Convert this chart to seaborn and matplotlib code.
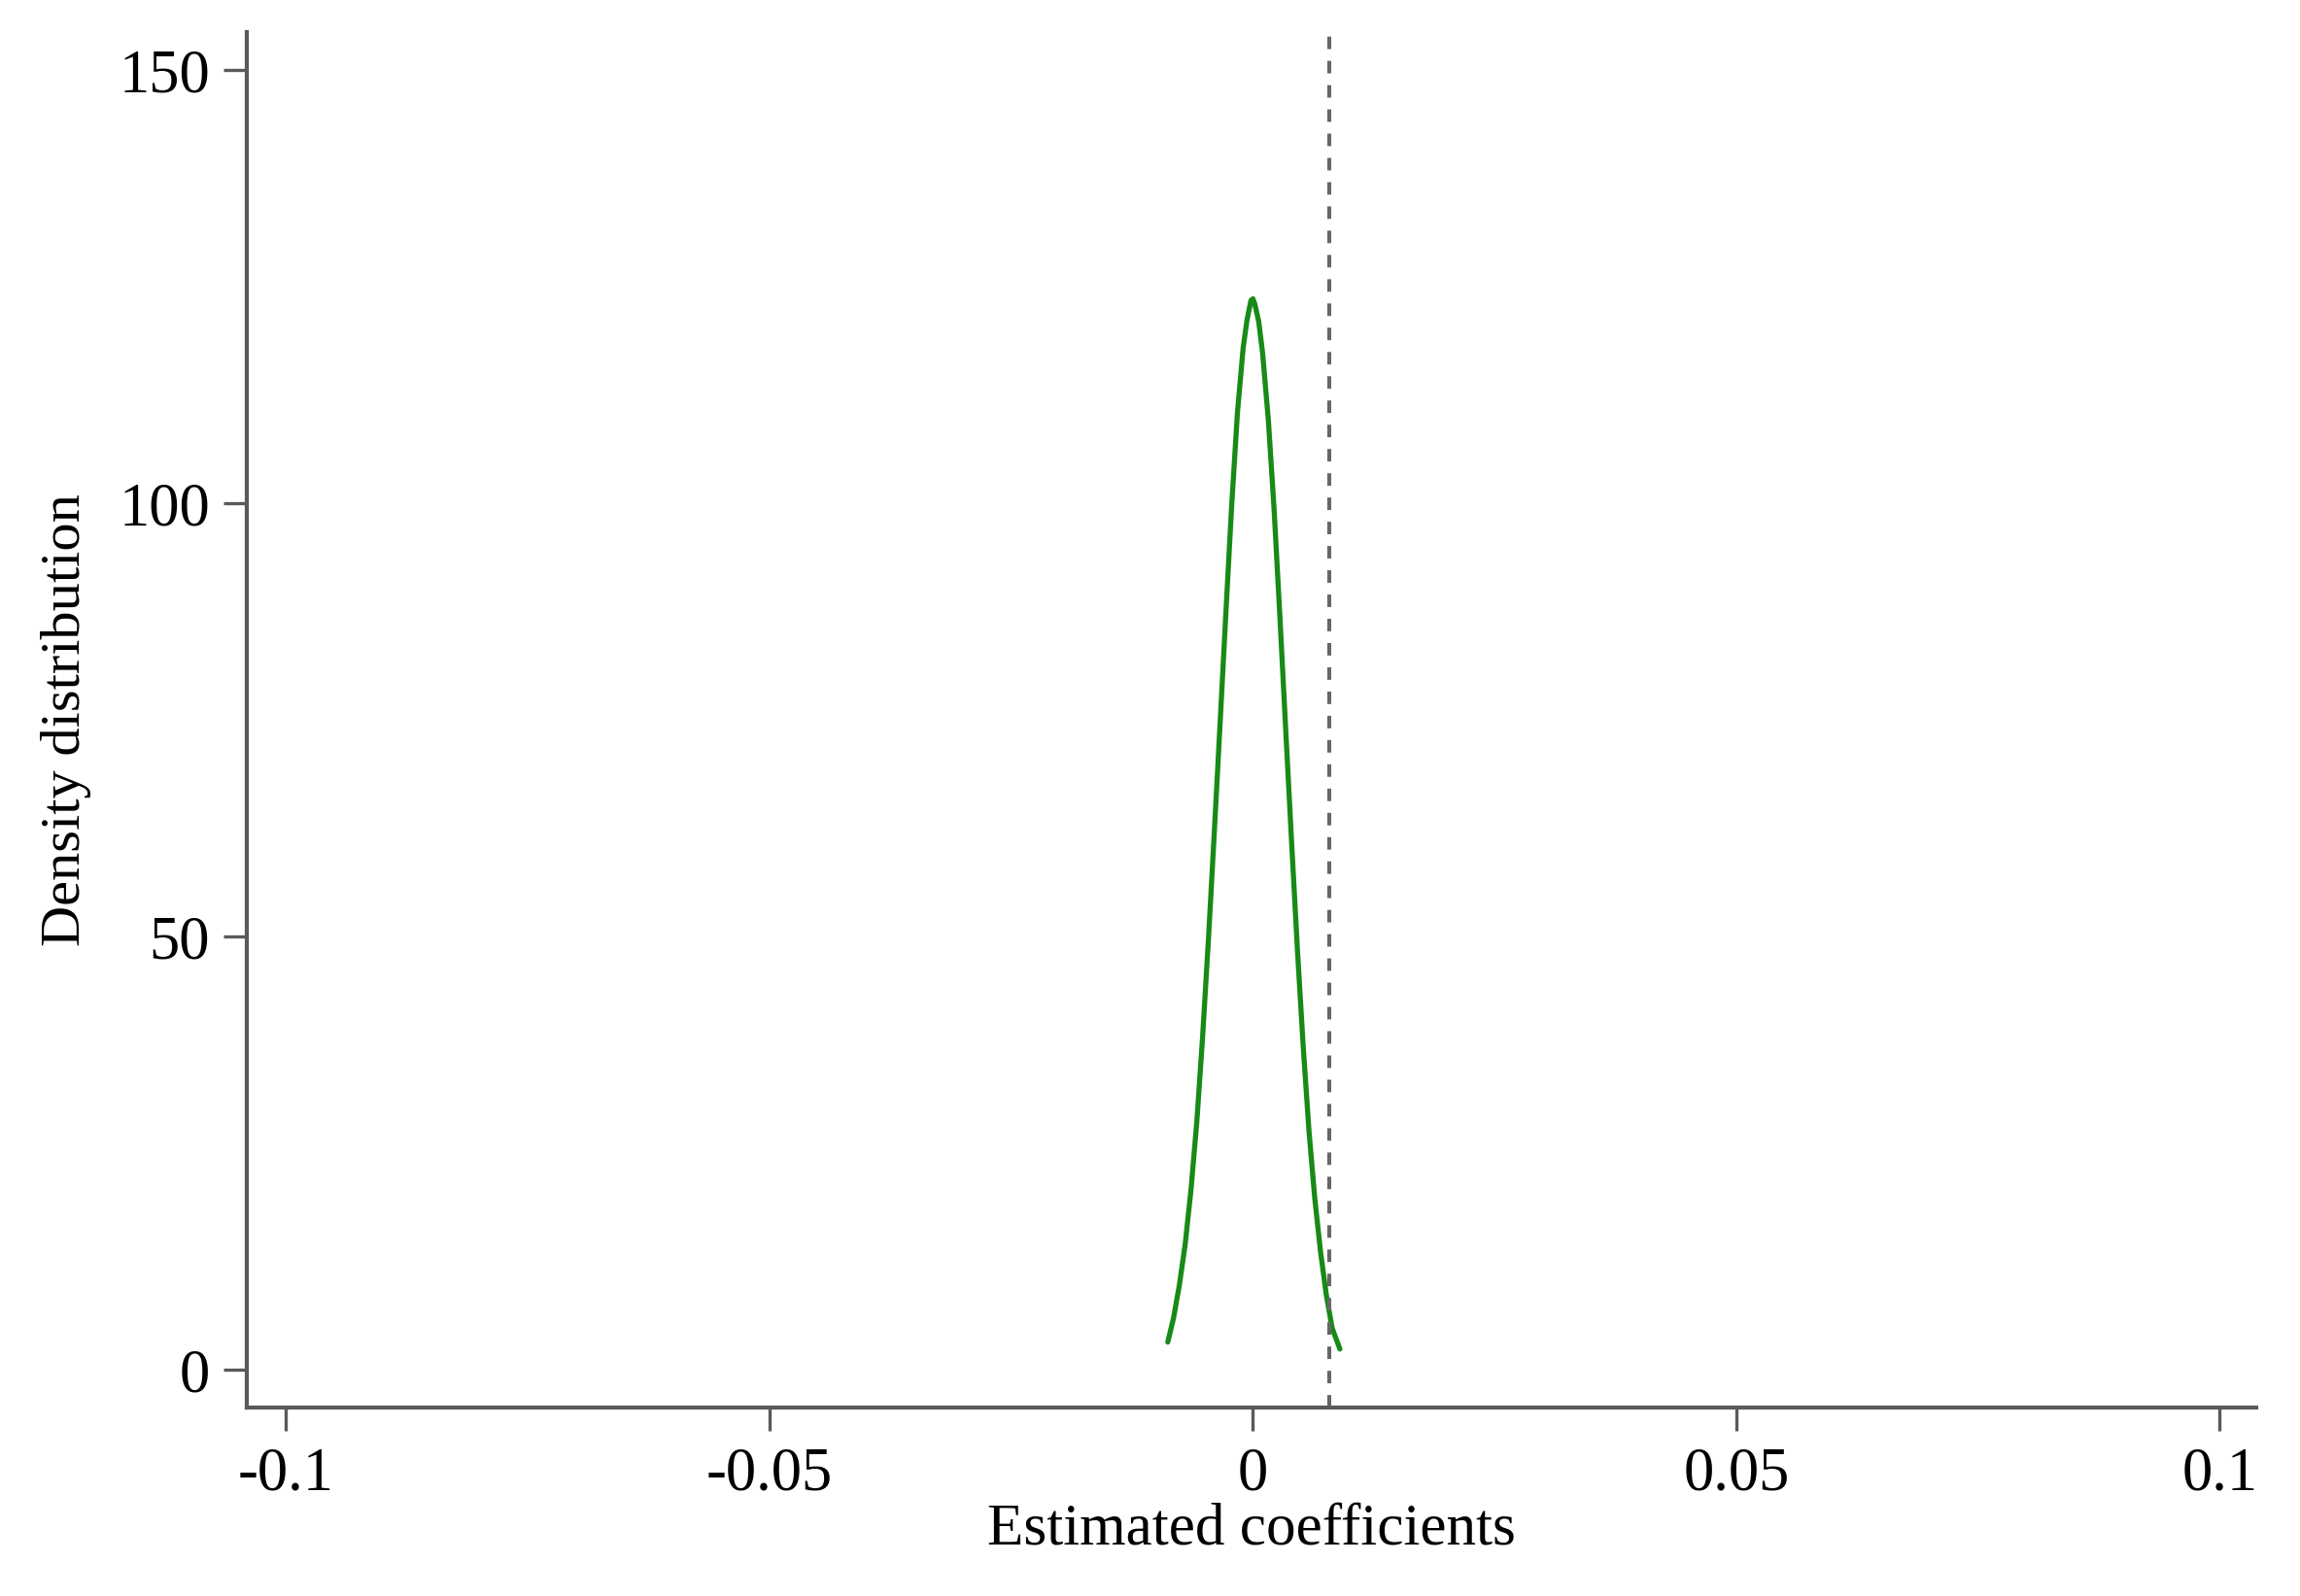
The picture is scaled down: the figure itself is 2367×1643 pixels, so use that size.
import numpy as np
import pandas as pd
import matplotlib
matplotlib.use("Agg")
import matplotlib.pyplot as plt
import seaborn as sns

# ── Data ──────────────────────────────────────────────────────
coef = [-0.0088, -0.0082, -0.0076, -0.0070, -0.0064, -0.0058, -0.0052,
        -0.0046, -0.0040, -0.0034, -0.0028, -0.0022, -0.0016, -0.0010,
        -0.0006, -0.0002, 0.0000, 0.0002, 0.0006, 0.0010, 0.0016,
        0.0022, 0.0028, 0.0034, 0.0040, 0.0046, 0.0052, 0.0058, 0.0064,
        0.0070, 0.0076, 0.0082, 0.0090]
density = [3.2, 6.0, 9.8, 14.5, 20.8, 28.6, 38.4,
           49.6, 61.8, 74.4, 87.2, 99.6, 110.4, 118.0,
           121.2, 123.4, 123.6, 123.0, 121.0, 117.4, 109.6,
           99.2, 86.8, 73.8, 61.0, 48.6, 37.4, 27.6, 19.8,
           13.6, 8.6, 4.8, 2.4]
true_coef = 0.0079

x_ticks = [-0.1, -0.05, 0, 0.05, 0.1]
x_ticklabels = ["-0.1", "-0.05", "0", "0.05", "0.1"]
y_ticks = [0, 50, 100, 150]

df = pd.DataFrame({"coef": coef, "density": density})

# ── Style ─────────────────────────────────────────────────────
sns.set_style("ticks")
plt.rcParams["font.family"] = ["Liberation Serif", "DejaVu Serif"]
AXIS = "#5a5a5a"
GREEN = "#178a17"

fig = plt.figure(figsize=(23.67, 16.43), dpi=100)
ax = fig.add_axes([0.1071, 0.118, 0.874, 0.862])

sns.lineplot(data=df, x="coef", y="density", color=GREEN, lw=3.8,
             estimator=None, ax=ax)
ax.axvline(true_coef, color="#666666", lw=2.9, ls=(0, (3.2, 3.0)))

ax.set_xlim(-0.1041, 0.1038)
ax.set_ylim(-4.37, 154.4)
ax.set_xticks(x_ticks)
ax.set_xticklabels(x_ticklabels)
ax.set_yticks(y_ticks)

for side in ["top", "right"]:
    ax.spines[side].set_visible(False)
for side in ["left", "bottom"]:
    ax.spines[side].set_color(AXIS)
    ax.spines[side].set_linewidth(3)

ax.tick_params(axis="both", colors=AXIS, labelcolor="black",
               length=17, width=2.4, labelsize=45)
ax.tick_params(axis="x", pad=12)
ax.tick_params(axis="y", pad=10)

ax.set_xlabel("Estimated coefficients", fontsize=44, labelpad=0,
              color="black")
ax.set_ylabel("Density distribution", fontsize=42, labelpad=20,
              color="black")

fig.savefig("out.png", dpi=100, facecolor="white")
plt.close(fig)
